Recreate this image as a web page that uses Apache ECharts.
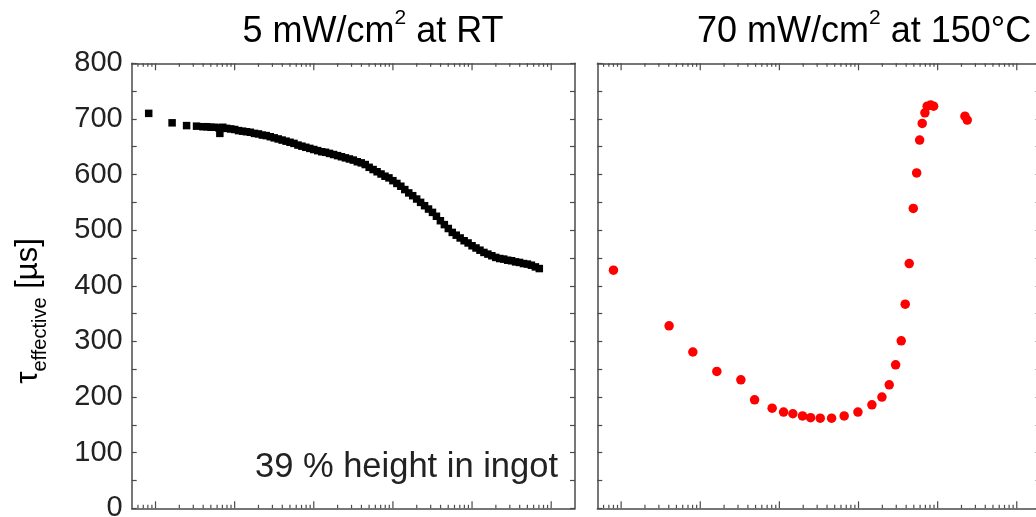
<!DOCTYPE html>
<html><head><meta charset="utf-8">
<script src="https://cdn.jsdelivr.net/npm/echarts@6/dist/echarts.min.js"></script>
<style>html,body{margin:0;padding:0;background:#fff}#c{width:1036px;height:517px}</style>
</head><body><div id="c"></div>
<script>
// Left panel: 5 mW/cm2 at RT (black squares)
const rtTime = [0.82,1.62,2.47,3.3,3.98,4.47,5.01,5.62,6.31,6.5,7.08,7.94,8.91,10,11.2,12.6,14.1,15.8,17.8,20,22.4,25.1,28.2,31.6,35.5,39.8,44.7,50.1,56.2,63.1,70.8,79.4,89.1,100,112,126,141,158,178,200,224,251,282,316,355,398,447,501,562,631,708,794,891,1000,1122,1259,1413,1585,1778,1995,2239,2512,2818,3162,3548,3981,4467,5012,5623,6310,7079,7943,8913,10000,11220,12590,14130,15850,17780,19950,22390,25120,28180,31620,35480,39810,44670,50120,56230,63100,70790];
const rtTau = [710,693,688,687,686,686,685,685,684,674,685,683,682,681,679,678,677,676,674,673,671,670,668,666,664,662,660,658,656,653,651,649,647,645,643,641,640,638,636,634,632,630,628,626,623,621,618,613,609,605,601,597,594,589,584,579,573,567,562,556,550,544,538,532,525,517,510,503,496,491,486,481,477,472,468,464,460,457,454,451,449,448,446,445,443,442,440,439,437,434,431];
// Right panel: 70 mW/cm2 at 150°C (red circles)
const hotTime = [0.8,4.04,8.06,16.2,32.6,48.6,81,113,148,196,248,328,457,659,983,1477,1977,2445,2945,3466,3894,4375,4920,5430,5920,6385,6905,7385,8160,8895,22130,23670];
const hotTau = [428,328,281,246,231,195,180,173,170,166,163,162,162,166,173,186,200,222,258,301,367,440,539,603,662,692,711,723,725,723,705,698];
// Axis settings
const xMin = 0.5, xMax = 2e5;
const yMin = 0, yMax = 800, yStep = 50, yLabelStep = 100;
const xDecades = [1,10,100,1000,10000,100000];
const xMinorMult = [2,3,4,5,6,7,8,9];
const xMinorBelow = [0.6,0.7,0.8,0.9];
const titles = [['5 mW/cm','2',' at RT'], ['70 mW/cm','2',' at 150°C']];
const note = '39 % height in ingot';

const AX = '#4a4a4a';
const tickData = [];
xDecades.forEach(d => tickData.push([d, 0, 7]));
xMinorBelow.forEach(m => tickData.push([m, 0, 3.5]));
xDecades.forEach(d => xMinorMult.forEach(m => { const v = d*m; if (v < xMax) tickData.push([v, 0, 3.5]); }));

const gridPos = [{left:131.7, top:63.3, width:443.3, height:445}, {left:597.3, top:63.3, width:443.3, height:445}];
const xAxes = [], yAxes = [], series = [];
gridPos.forEach((g, i) => {
  ['bottom','top'].forEach(pos => xAxes.push({
    type:'log', logBase:10, gridIndex:i, position:pos, min:xMin, max:xMax,
    axisLine:{show:true, onZero:false, lineStyle:{color:AX, width:1.5}},
    axisTick:{show:false}, axisLabel:{show:false}, splitLine:{show:false}
  }));
  ['left','right'].forEach(pos => yAxes.push({
    type:'value', gridIndex:i, position:pos, min:yMin, max:yMax, interval:yStep,
    axisLine:{show:true, lineStyle:{color:AX, width:1.5}},
    axisTick:{show:true, inside:true, length:5, lineStyle:{color:AX, width:1.2}},
    axisLabel:{show:(i===0 && pos==='left'), fontSize:29, color:'#222', margin:9,
      fontFamily:'Liberation Sans, Arial, sans-serif',
      formatter: v => (v % yLabelStep === 0 ? String(v) : '')},
    splitLine:{show:false}
  }));
  series.push({
    type:'custom', xAxisIndex:i*2, yAxisIndex:i*2, silent:true, clip:false, z:5,
    data: tickData, encode:{x:0, y:1},
    renderItem: (params, api) => {
      const v = api.value(0), len = api.value(2);
      const b = api.coord([v, yMin]), t = api.coord([v, yMax]);
      return {type:'group', children:[
        {type:'line', shape:{x1:b[0], y1:b[1], x2:b[0], y2:b[1]-len}, style:{stroke:AX, lineWidth:1.2}},
        {type:'line', shape:{x1:t[0], y1:t[1], x2:t[0], y2:t[1]+len}, style:{stroke:AX, lineWidth:1.2}}
      ]};
    }
  });
});
series.push({
  type:'scatter', xAxisIndex:0, yAxisIndex:0, symbol:'rect', symbolSize:7.5,
  itemStyle:{color:'#000', opacity:1}, data: rtTime.map((t, k) => [t, rtTau[k]]), z:3
});
series.push({
  type:'scatter', xAxisIndex:2, yAxisIndex:2, symbol:'circle', symbolSize:9.5,
  itemStyle:{color:'#ff0000', opacity:1}, data: hotTime.map((t, k) => [t, hotTau[k]]), z:3
});

const FF = 'Liberation Sans, Arial, sans-serif';
const titleRich = {
  n:{fontSize:36, fontFamily:FF, color:'#222', lineHeight:42, verticalAlign:'bottom'},
  p:{fontSize:21, fontFamily:FF, color:'#222', lineHeight:42, verticalAlign:'top'}
};
const graphic = [
  {type:'text', x:373, y:29, style:{text:'{n|'+titles[0][0]+'}{p|'+titles[0][1]+'}{n|'+titles[0][2]+'}', rich:titleRich, align:'center', verticalAlign:'middle'}},
  {type:'text', x:697, y:29, style:{text:'{n|'+titles[1][0]+'}{p|'+titles[1][1]+'}{n|'+titles[1][2]+'}', rich:titleRich, align:'left', verticalAlign:'middle'}},
  {type:'text', x:558, y:467, style:{text:note, fontSize:34.5, fontFamily:FF, fill:'#222', align:'right', verticalAlign:'middle'}},
  {type:'text', x:28, y:311, rotation:Math.PI/2, style:{
    text:'{t|τ}{s|effective}{t| [µs]}', align:'center', verticalAlign:'middle',
    rich:{ t:{fontSize:31, fontFamily:FF, color:'#222', lineHeight:44, verticalAlign:'middle'},
           s:{fontSize:20, fontFamily:FF, color:'#222', lineHeight:44, verticalAlign:'bottom'} }
  }}
];

const chart = echarts.init(document.getElementById('c'), null, {renderer:'canvas'});
chart.setOption({
  animation:false, backgroundColor:'#fff',
  grid: gridPos.map(g => Object.assign({containLabel:false, outerBoundsMode:'none'}, g)),
  xAxis: xAxes, yAxis: yAxes, series: series, graphic: graphic
});
</script></body></html>
